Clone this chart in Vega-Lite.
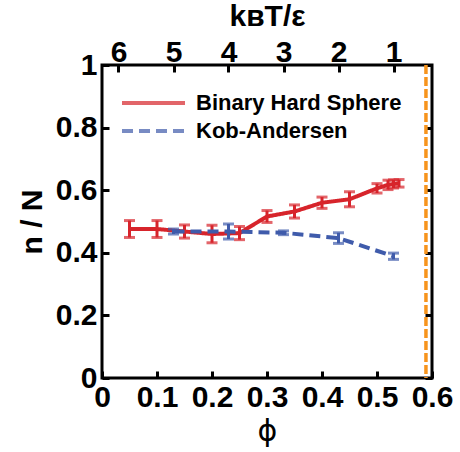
{
  "$schema": "https://vega.github.io/schema/vega-lite/v6.json",
  "width": 330,
  "height": 313,
  "autosize": {"type": "none"},
  "padding": {"left": 102, "top": 65, "right": 28, "bottom": 74},
  "background": "white",
  "config": {
    "view": {"stroke": "black", "strokeWidth": 3},
    "font": "Liberation Sans",
    "axis": {
      "grid": false,
      "domain": false,
      "ticks": true,
      "tickColor": "black",
      "tickWidth": 3,
      "tickSize": -7,
      "labelFont": "Liberation Sans",
      "labelFontSize": 30,
      "labelFontWeight": "bold",
      "labelColor": "black",
      "labelFlush": false,
      "labelOverlap": false,
      "titleColor": "black",
      "titleFont": "Liberation Sans",
      "titleFontSize": 30,
      "titleFontWeight": "bold"
    }
  },
  "datasets": {
    "bhs": [
      {"series": "Binary Hard Sphere", "phi": 0.05, "n": 0.476, "lo": 0.449, "hi": 0.503},
      {"series": "Binary Hard Sphere", "phi": 0.10, "n": 0.476, "lo": 0.449, "hi": 0.503},
      {"series": "Binary Hard Sphere", "phi": 0.15, "n": 0.468, "lo": 0.447, "hi": 0.489},
      {"series": "Binary Hard Sphere", "phi": 0.20, "n": 0.460, "lo": 0.432, "hi": 0.488},
      {"series": "Binary Hard Sphere", "phi": 0.25, "n": 0.463, "lo": 0.442, "hi": 0.484},
      {"series": "Binary Hard Sphere", "phi": 0.30, "n": 0.516, "lo": 0.497, "hi": 0.535},
      {"series": "Binary Hard Sphere", "phi": 0.35, "n": 0.532, "lo": 0.511, "hi": 0.553},
      {"series": "Binary Hard Sphere", "phi": 0.40, "n": 0.560, "lo": 0.542, "hi": 0.578},
      {"series": "Binary Hard Sphere", "phi": 0.45, "n": 0.571, "lo": 0.547, "hi": 0.595},
      {"series": "Binary Hard Sphere", "phi": 0.50, "n": 0.606, "lo": 0.591, "hi": 0.621},
      {"series": "Binary Hard Sphere", "phi": 0.52, "n": 0.617, "lo": 0.602, "hi": 0.632},
      {"series": "Binary Hard Sphere", "phi": 0.53, "n": 0.620, "lo": 0.607, "hi": 0.633},
      {"series": "Binary Hard Sphere", "phi": 0.54, "n": 0.622, "lo": 0.610, "hi": 0.634}
    ],
    "ka": [
      {"series": "Kob-Andersen", "T": 5, "n": 0.468, "lo": 0.460, "hi": 0.476},
      {"series": "Kob-Andersen", "T": 4, "n": 0.468, "lo": 0.444, "hi": 0.492},
      {"series": "Kob-Andersen", "T": 3, "n": 0.464, "lo": 0.458, "hi": 0.470},
      {"series": "Kob-Andersen", "T": 2, "n": 0.447, "lo": 0.430, "hi": 0.464},
      {"series": "Kob-Andersen", "T": 1, "n": 0.389, "lo": 0.379, "hi": 0.399}
    ],
    "rcp": [
      {"phi_c": 0.589}
    ]
  },
  "layer": [
    {
      "layer": [
        {
          "data": {"name": "bhs"},
          "mark": {"type": "line", "strokeWidth": 4},
          "encoding": {
            "x": {
              "field": "phi", "type": "quantitative",
              "scale": {"domain": [0, 0.6], "nice": false, "zero": false},
              "axis": {"orient": "bottom", "values": [0, 0.1, 0.2, 0.3, 0.4, 0.5, 0.6], "format": "~g", "title": "ϕ", "titleFontWeight": "normal", "titleFont": "DejaVu Sans", "titleFontSize": 30, "labelPadding": 11, "titlePadding": 4}
            },
            "y": {
              "field": "n", "type": "quantitative", "title": "n / N",
              "scale": {"domain": [0, 1], "nice": false},
              "axis": {"orient": "left", "values": [0, 0.2, 0.4, 0.6, 0.8, 1], "format": "~g", "title": "n / N", "labelPadding": 12, "titlePadding": 8}
            },
            "color": {
              "field": "series", "type": "nominal",
              "scale": {"domain": ["Binary Hard Sphere", "Kob-Andersen"], "range": ["#d7242b", "#3f5bab"]},
              "legend": {"orient": "none", "legendX": 18, "legendY": 27, "title": null, "padding": 0, "symbolType": "stroke", "symbolSize": 3969, "symbolStrokeWidth": 4, "symbolOpacity": 1, "clipHeight": 22, "labelFont": "Liberation Sans", "labelFontSize": 22, "labelFontWeight": "bold", "labelColor": "black", "labelOffset": 9, "labelLimit": 400, "rowPadding": 6}
            },
            "strokeDash": {
              "field": "series", "type": "nominal",
              "scale": {"domain": ["Binary Hard Sphere", "Kob-Andersen"], "range": [[1, 0], [11, 6]]},
              "legend": {"orient": "none", "legendX": 18, "legendY": 27, "title": null, "padding": 0, "symbolType": "stroke", "symbolSize": 3969, "symbolStrokeWidth": 4, "symbolOpacity": 1, "clipHeight": 22, "labelFont": "Liberation Sans", "labelFontSize": 22, "labelFontWeight": "bold", "labelColor": "black", "labelOffset": 9, "labelLimit": 400, "rowPadding": 6}
            }
          }
        },
        {
          "data": {"name": "bhs"},
          "mark": {"type": "errorbar", "ticks": true, "size": 11, "thickness": 3},
          "encoding": {
            "x": {"field": "phi", "type": "quantitative"},
            "y": {"field": "lo", "type": "quantitative", "title": "n / N"},
            "y2": {"field": "hi"},
            "color": {"field": "series", "type": "nominal"}
          }
        },
        {
          "data": {"name": "rcp"},
          "mark": {"type": "rule", "color": "#f7941d", "strokeWidth": 3.5, "strokeDash": [9, 3]},
          "encoding": {
            "x": {"field": "phi_c", "type": "quantitative"}
          }
        }
      ]
    },
    {
      "data": {"name": "ka"},
      "layer": [
        {
          "mark": {"type": "line", "strokeWidth": 4},
          "encoding": {
            "x": {
              "field": "T", "type": "quantitative",
              "scale": {"domain": [0.3, 6.3], "reverse": true, "nice": false, "zero": false},
              "axis": {"orient": "top", "values": [1, 2, 3, 4, 5, 6], "format": "d", "title": "kʙT/ε", "labelPadding": 5, "titlePadding": 6}
            },
            "y": {
              "field": "n", "type": "quantitative", "title": null,
              "axis": {"orient": "right", "values": [0, 0.2, 0.4, 0.6, 0.8, 1], "labels": false, "title": null}
            },
            "color": {"field": "series", "type": "nominal"},
            "strokeDash": {"field": "series", "type": "nominal"}
          }
        },
        {
          "mark": {"type": "errorbar", "ticks": true, "size": 11, "thickness": 3},
          "encoding": {
            "x": {"field": "T", "type": "quantitative"},
            "y": {"field": "lo", "type": "quantitative", "title": null},
            "y2": {"field": "hi"},
            "color": {"field": "series", "type": "nominal"}
          }
        }
      ]
    }
  ],
  "resolve": {
    "scale": {"x": "independent"},
    "axis": {"x": "independent", "y": "independent"}
  }
}
